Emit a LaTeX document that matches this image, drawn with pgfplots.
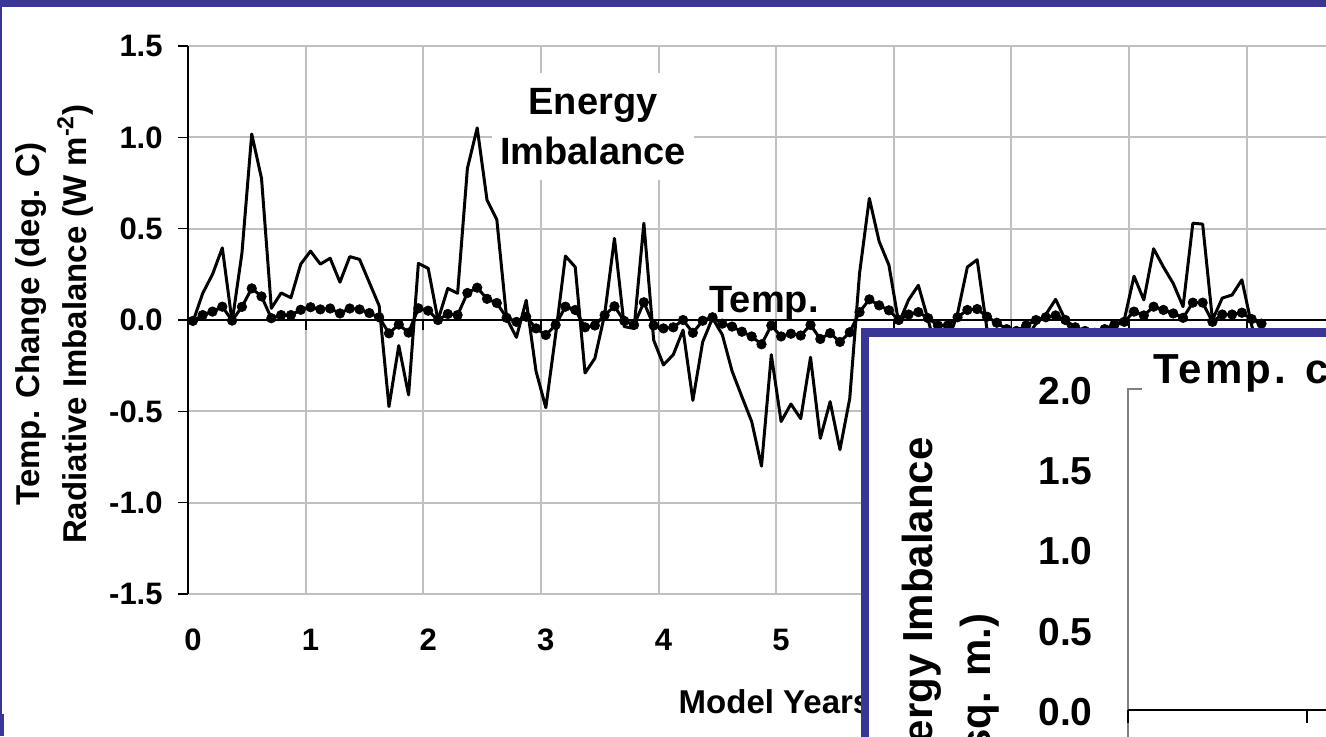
\documentclass[border=0pt]{standalone}
\usepackage{fontspec}
\setmainfont{Liberation Sans}
\newfontfamily\spacedsans[LetterSpace=7]{Liberation Sans}
\usepackage{pgfplots}
\usepackage{pgfplotstable}
\pgfplotsset{compat=1.18}

\definecolor{slideblue}{RGB}{56,55,152}
\definecolor{gridgray}{RGB}{192,192,192}
\definecolor{axisgray}{RGB}{128,128,128}

% monthly model output: month index, radiative imbalance (W m^-2), temperature change (deg C)
\pgfplotstableread{
m E T
0 -0.01 -0.005
1 0.146 0.027
2 0.25 0.046
3 0.395 0.073
4 -0.01 -0.003
5 0.365 0.072
6 1.018 0.173
7 0.775 0.129
8 0.064 0.01
9 0.148 0.027
10 0.122 0.027
11 0.306 0.056
12 0.377 0.07
13 0.306 0.058
14 0.338 0.063
15 0.207 0.036
16 0.347 0.063
17 0.332 0.058
18 0.205 0.038
19 0.078 0.015
20 -0.474 -0.073
21 -0.14 -0.025
22 -0.41 -0.069
23 0.31 0.064
24 0.283 0.051
25 0.0 0.0
26 0.173 0.033
27 0.146 0.027
28 0.83 0.148
29 1.052 0.177
30 0.657 0.116
31 0.55 0.093
32 0.01 0.012
33 -0.095 -0.01
34 0.108 0.018
35 -0.28 -0.046
36 -0.48 -0.082
37 -0.08 -0.027
38 0.35 0.073
39 0.29 0.055
40 -0.29 -0.04
41 -0.21 -0.03
42 0.03 0.027
43 0.447 0.075
44 -0.036 -0.005
45 -0.046 -0.027
46 0.53 0.097
47 -0.11 -0.03
48 -0.246 -0.046
49 -0.19 -0.04
50 -0.055 0.0
51 -0.44 -0.07
52 -0.12 -0.004
53 0.01 0.015
54 -0.08 -0.02
55 -0.28 -0.036
56 -0.42 -0.064
57 -0.556 -0.09
58 -0.80 -0.133
59 -0.19 -0.03
60 -0.556 -0.09
61 -0.46 -0.075
62 -0.54 -0.085
63 -0.204 -0.027
64 -0.648 -0.104
65 -0.447 -0.072
66 -0.71 -0.12
67 -0.43 -0.067
68 0.255 0.043
69 0.666 0.113
70 0.43 0.08
71 0.30 0.053
72 -0.018 0.0
73 0.11 0.03
74 0.19 0.043
75 0.0 0.01
76 -0.2 -0.03
77 -0.12 -0.03
78 0.036 0.015
79 0.29 0.055
80 0.33 0.06
81 -0.05 0.018
82 -0.3 -0.015
83 -0.4 -0.05
84 -0.3 -0.06
85 -0.1 -0.03
86 -0.02 0.0
87 0.03 0.015
88 0.113 0.025
89 0.0 0.0
90 -0.1 -0.04
91 -0.3 -0.06
92 -0.4 -0.07
93 -0.2 -0.05
94 -0.03 -0.025
95 0.0 -0.01
96 0.24 0.046
97 0.11 0.025
98 0.39 0.073
99 0.29 0.055
100 0.2 0.036
101 0.073 0.012
102 0.53 0.095
103 0.525 0.095
104 0.0 -0.01
105 0.12 0.03
106 0.137 0.03
107 0.22 0.04
108 -0.03 0.005
109 -0.2 -0.02
}\modelrun

\tikzset{
  ticklab/.style={font=\fontsize{15.5pt}{18pt}\selectfont\bfseries},
  axlab/.style={font=\fontsize{16.5pt}{19pt}\selectfont\bfseries},
  notelab/.style={font=\fontsize{19pt}{25pt}\selectfont\bfseries},
  insetlab/.style={font=\fontsize{19.5pt}{23pt}\selectfont\bfseries},
  insettitle/.style={font=\fontsize{21pt}{25pt}\selectfont\bfseries},
  insetaxlab/.style={font=\fontsize{21pt}{25pt}\selectfont\bfseries},
}

\begin{document}
\begin{tikzpicture}
\useasboundingbox (0pt,0pt) rectangle (663pt,368pt);
\clip (0pt,0pt) rectangle (663pt,368pt);
\fill[white] (0pt,0pt) rectangle (663pt,368pt);
% slide frame
\fill[slideblue] (0pt,364.5pt) rectangle (663pt,368pt);
\fill[slideblue] (0pt,0pt) rectangle (1pt,368pt);
\fill[slideblue] (0pt,0pt) rectangle (2pt,11pt);

% main chart: imbalance and temperature over ten model years
\begin{axis}[
  at={(94pt,71pt)}, anchor=south west,
  scale only axis, width=588.2pt, height=274pt,
  xmin=-0.5, xmax=119.5, ymin=-1.5, ymax=1.5,
  clip=false,
  axis line style={draw=none},
  tick style={draw=none},
  xtick={0,12,...,108},
  xticklabels={0,1,2,3,4,5,6,7,8,9},
  extra x ticks={11.5,23.5,...,119.5},
  extra x tick labels={},
  extra x tick style={xmajorgrids=true},
  ytick={-1.5,-1,...,1.5},
  yticklabels={-1.5,-1.0,-0.5,0.0,0.5,1.0,1.5},
  ymajorgrids=true,
  major grid style={gridgray, line width=1pt},
  xticklabel style={ticklab, anchor=center, inner sep=0pt, yshift=-23pt},
  yticklabel style={ticklab, anchor=east, inner sep=0pt, xshift=-12.5pt},
]
  % value axis with outward ticks
  \draw[black, line width=0.6pt] (axis cs:-0.5,-1.5) -- (axis cs:-0.5,1.5);
  \pgfplotsinvokeforeach{-1.5,-1,-0.5,0,0.5,1,1.5}{
    \draw[black, line width=0.7pt] (axis cs:-0.5,#1) -- ++(-5pt,0pt);
  }
  % zero line with year ticks
  \draw[black, line width=1.3pt] (axis cs:-0.5,0) -- (axis cs:119.5,0);
  \pgfplotsinvokeforeach{-0.5,11.5,23.5,35.5,47.5,59.5,71.5,83.5,95.5,107.5}{
    \draw[black, line width=0.9pt] (axis cs:#1,0) -- ++(0pt,-5pt);
  }
  \addplot[black, line width=1.5pt, line join=round] table[x=m, y=E] {\modelrun};
  \addplot[black, line width=1.5pt, line join=round, mark=*, mark size=2.4pt,
           mark options={solid, fill=black, line width=0.3pt}] table[x=m, y=T] {\modelrun};
\end{axis}

% annotations and axis titles
\node[notelab, fill=white, align=center, inner sep=0pt,
      minimum width=101pt, minimum height=53.5pt] at (296.5pt,304.75pt) {Energy\\Imbalance};
\node[notelab, anchor=base] at (382pt,212pt) {Temp.};
\node[axlab, rotate=90, anchor=base] at (20pt,206pt) {Temp. Change (deg. C)};
\node[axlab, rotate=90, anchor=base] at (43pt,206pt) {Radiative Imbalance (W m\textsuperscript{-2})};
\node[axlab, anchor=base] at (387.5pt,11.5pt) {Model Years};

% inset panel
\fill[slideblue] (430.5pt,-5pt) rectangle (670pt,204pt);
\fill[white] (434.5pt,-5pt) rectangle (670pt,199.5pt);

\begin{axis}[
  at={(564pt,-27.125pt)}, anchor=south west,
  scale only axis, width=179pt, height=200.625pt,
  xmin=0, xmax=2, ymin=-0.5, ymax=2,
  clip=false,
  axis line style={draw=none},
  tick style={draw=none},
  xtick=\empty,
  ytick={0,0.5,...,2},
  yticklabels={0.0,0.5,1.0,1.5,2.0},
  yticklabel style={insetlab, anchor=east, inner sep=0pt, xshift=-17.5pt, yshift=-1pt},
]
  \draw[axisgray, line width=0.8pt] (axis cs:0,-0.5) -- (axis cs:0,2) -- (axis cs:2,2);
  \draw[black, line width=1.4pt] (axis cs:0,0) -- (axis cs:2,0);
  \pgfplotsinvokeforeach{0,1}{
    \draw[black, line width=1pt] (axis cs:#1,0) -- ++(0pt,-6.5pt);
  }
\end{axis}

\node[insettitle, fill=white, anchor=base west, inner xsep=5.5pt, inner ysep=4pt]
  at (571pt,176.5pt) {\spacedsans\bfseries Temp. change};
\node[insetaxlab, rotate=90, anchor=east, inner sep=0pt] at (461pt,149.5pt) {Energy Imbalance};
\node[insetaxlab, rotate=90, anchor=east, inner sep=0pt] at (490pt,61.5pt) {(W/sq. m.)};
\end{tikzpicture}
\end{document}
